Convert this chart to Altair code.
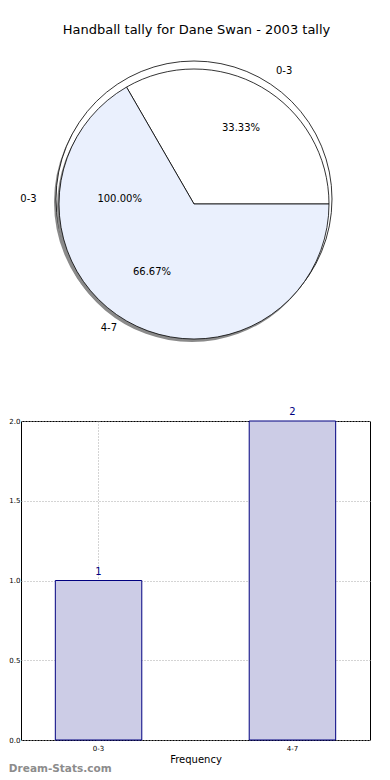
import math
import altair as alt
import pandas as pd

# ---- data ----
title_text = "Handball tally for Dane Swan - 2003 tally"
cats = ["0-3", "4-7"]
counts = [1, 2]
all_cats = ["0-3"]
all_counts = [1]
y_ticks = [0.0, 0.5, 1.0, 1.5, 2.0]
watermark = "Dream-Stats.com"

front = pd.DataFrame({"cat": cats, "n": counts})
back = pd.DataFrame({"cat": all_cats, "n": all_counts})
bar_df = pd.DataFrame({"cat": cats, "n": counts})

FONT = "DejaVu Sans"
FRONT_START = 11 * math.pi / 6
BACK_START = math.pi / 2
front_theta = alt.Scale(range=[FRONT_START, FRONT_START + 2 * math.pi])
back_theta = alt.Scale(range=[BACK_START, BACK_START + 2 * math.pi])
color_scale = alt.Scale(domain=cats, range=["#ffffff", "#eaf0fd"])

# layout of the pie panel (view pixels)
CX, CY = 173, 163
BX, BY = 173, 158
R_FRONT, R_BACK = 135, 138


def arcs(df, tscale):
    return alt.Chart(df).encode(
        theta=alt.Theta("n:Q", stack=True, scale=tscale),
        order=alt.Order("cat:N"),
    )


def labels(df, cx, cy, rx, ry, dpct, dlab, explode):
    """matplotlib-style label placement computed from the data."""
    return (
        alt.Chart(df)
        .transform_joinaggregate(total="sum(n)")
        .transform_window(cum="sum(n)", sort=[alt.SortField("cat")], frame=[None, 0])
        .transform_calculate(
            a="2 * PI * (datum.cum - datum.n / 2) / datum.total",
            pct="format(datum.n / datum.total, '.2%')",
        )
        .transform_calculate(
            e=f"datum.cat == '0-3' ? {explode} : 0",
            side="cos(datum.a) >= 0 ? 'r' : 'l'",
        )
        .transform_calculate(
            ppx=f"{cx} + (datum.e + {dpct} * {rx}) * cos(datum.a)",
            ppy=f"{cy} - (datum.e + {dpct} * {ry}) * sin(datum.a)",
            lpx=f"{cx} + datum.e * cos(datum.a) + {dlab} * {rx} * cos(datum.a)",
            lpy=f"{cy} - datum.e * sin(datum.a) - {dlab} * {ry} * sin(datum.a)",
        )
    )


txt = dict(fontSize=10, font=FONT, color="black", baseline="middle")


def label_layers(lab):
    pct = lab.mark_text(align="center", **txt).encode(
        x=alt.X("ppx:Q", scale=None), y=alt.Y("ppy:Q", scale=None), text="pct:N"
    )
    right = lab.transform_filter("datum.side == 'r'").mark_text(align="left", **txt).encode(
        x=alt.X("lpx:Q", scale=None), y=alt.Y("lpy:Q", scale=None), text="cat:N"
    )
    left = lab.transform_filter("datum.side == 'l'").mark_text(align="right", **txt).encode(
        x=alt.X("lpx:Q", scale=None), y=alt.Y("lpy:Q", scale=None), text="cat:N"
    )
    return [pct, right, left]


back_shadow = arcs(back, back_theta).mark_arc(
    radius=R_BACK, x=BX - 2, y=BY + 3, fill="#8a8a8a"
)
back_pie = arcs(back, back_theta).mark_arc(
    radius=R_BACK, x=BX, y=BY, stroke="black", strokeWidth=0.8
).encode(color=alt.Color("cat:N", scale=color_scale, legend=None))
front_shadow = arcs(front, front_theta).mark_arc(
    radius=R_FRONT, x=CX - 2, y=CY + 3, fill="#8a8a8a"
)
front_pie = arcs(front, front_theta).mark_arc(
    radius=R_FRONT, x=CX, y=CY, stroke="black", strokeWidth=0.8
).encode(color=alt.Color("cat:N", scale=color_scale, legend=None))

back_labels = label_layers(labels(back, BX, BY, 143, 130, 0.52, 1.1, 0))
front_labels = label_layers(labels(front, CX, CY, 140, 130, 0.6, 1.1, 10))

pie = (
    alt.layer(back_shadow, back_pie, front_shadow, front_pie,
              *back_labels, *front_labels)
    .resolve_scale(theta="independent")
    .properties(
        width=351,
        height=300,
        view=alt.ViewBackground(stroke="transparent"),
        title=alt.TitleParams(
            title_text, fontSize=13, font=FONT, fontWeight="normal",
            color="black", anchor="middle", offset=4,
        ),
    )
)

bar_base = alt.Chart(bar_df).encode(
    x=alt.X(
        "cat:N",
        sort=cats,
        scale=alt.Scale(paddingInner=0.554, paddingOuter=0.177),
        axis=alt.Axis(
            title="Frequency", labelAngle=0, labelFontSize=7, titleFontSize=10,
            titleFontWeight="normal", grid=True, gridDash=[1, 2], gridColor="#a8a8a8",
            domain=False, ticks=False, labelPadding=4, titlePadding=3,
            bandPosition=0.5, labelFont=FONT, titleFont=FONT,
            labelColor="black", titleColor="black",
        ),
    ),
    y=alt.Y(
        "n:Q",
        scale=alt.Scale(domain=[0, 2], nice=False),
        axis=alt.Axis(
            values=y_ticks, format=".1f", title=None, labelFontSize=7,
            labelFont=FONT, labelColor="black", grid=True, gridDash=[1, 2],
            gridColor="#a8a8a8", domain=False, ticks=False, labelPadding=1,
        ),
    ),
)
bars = bar_base.mark_bar(fill="#ccccE6", stroke="#000080", strokeWidth=1)
bar_text = bar_base.mark_text(
    dy=-4, baseline="bottom", color="#000080", fontSize=10, font=FONT
).encode(text="n:Q")

bar = alt.layer(bars, bar_text).properties(
    width=349,
    height=319,
    view=alt.ViewBackground(stroke="black", strokeWidth=1),
    title=alt.TitleParams(
        watermark, orient="bottom", anchor="start", frame="bounds",
        fontSize=10.5, fontWeight="bold", color="#8c8c8c", font=FONT, offset=0,
    ),
)

chart = alt.vconcat(pie, bar, spacing=63).properties(
    padding={"left": 0, "top": 15, "right": 0, "bottom": 0}
)

chart.save("out.html", embed_options={"renderer": "svg", "actions": False})
